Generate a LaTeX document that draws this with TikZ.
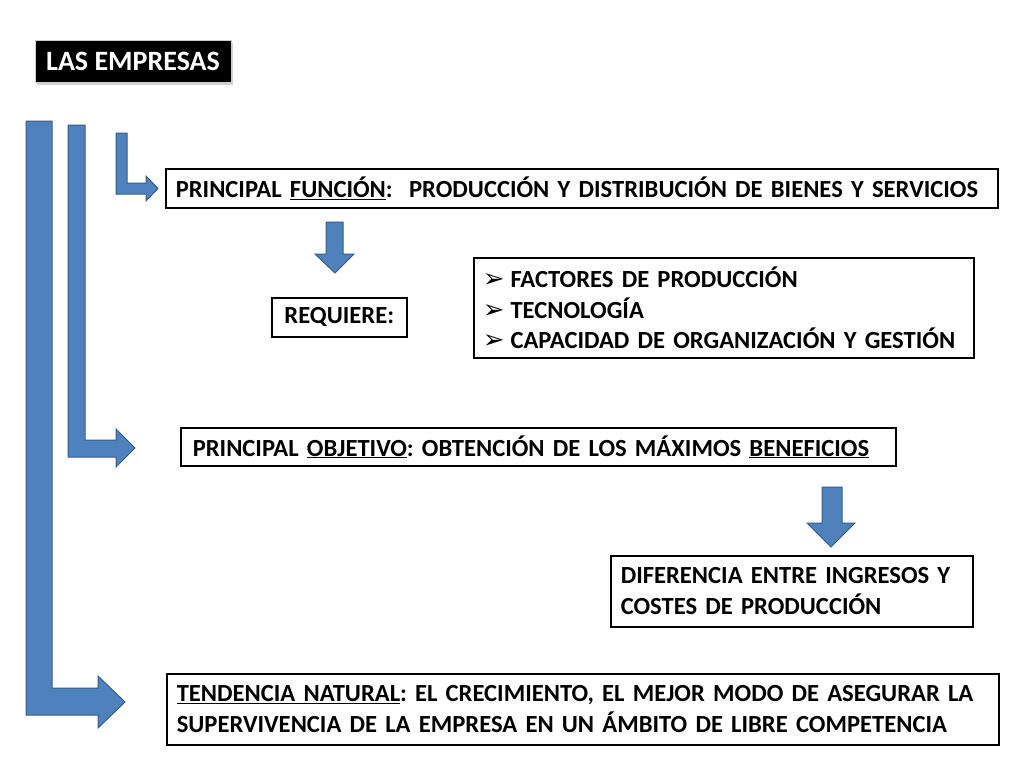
\documentclass[tikz,border=0pt]{standalone}
\usepackage{fontspec}
\setmainfont{Carlito}
\newfontfamily\simbolos{DejaVu Sans}
\usetikzlibrary{shadows}
\definecolor{azul}{RGB}{79,129,189}
\definecolor{azulborde}{RGB}{56,93,138}
\newcommand{\vineta}{{\simbolos\fontsize{26}{31}\selectfont ➢}\hspace{6pt}}
\frenchspacing
\begin{document}
\begin{tikzpicture}[x=1pt,y=-1pt,
  caja/.style={draw, line width=2.5pt, anchor=north west, inner xsep=10pt, inner ysep=0pt, align=left,
    font=\fontsize{24.6}{30.5}\selectfont\bfseries},
  flecha/.style={fill=azul, draw=azulborde, line width=1pt, line join=miter}]
\useasboundingbox[fill=white] (0,0) rectangle (1024,768);
\node[fill=black, draw=white!80!black, line width=1pt, text=white, minimum width=196pt, minimum height=41pt, inner sep=0pt,
  drop shadow={opacity=0.35, shadow xshift=1.5pt, shadow yshift=-2.5pt},
  font=\fontsize{28}{30}\selectfont\bfseries] (titulo) at (133,61.5) {LAS EMPRESAS};
\node[caja, minimum width=832pt, minimum height=39pt, text width=812pt] (funcion) at (164.5,167.5)
  {PRINCIPAL \underline{FUNCIÓN}:\ \ PRODUCCIÓN Y DISTRIBUCIÓN DE BIENES Y SERVICIOS};
\node[caja, minimum width=135pt, minimum height=39pt, align=center, text width=115pt] (requiere) at (270.5,296.5) {REQUIERE:};
\node[caja, minimum width=500pt, minimum height=100pt, inner xsep=9pt, text width=482pt] (lista) at (472.5,256.5)
  {\vineta FACTORES DE PRODUCCIÓN\\ \vineta TECNOLOGÍA\\ \vineta CAPACIDAD DE ORGANIZACIÓN Y GESTIÓN};
\node[caja, minimum width=715pt, minimum height=38pt, inner xsep=12pt, text width=691pt] (objetivo) at (179.5,426.5)
  {PRINCIPAL \underline{OBJETIVO}: OBTENCIÓN DE LOS MÁXIMOS \underline{BENEFICIOS}};
\node[caja, minimum width=362pt, minimum height=71pt, text width=342pt] (diferencia) at (609.5,554.5)
  {DIFERENCIA ENTRE INGRESOS Y\\COSTES DE PRODUCCIÓN};
\node[caja, minimum width=832pt, minimum height=71pt, text width=812pt] (tendencia) at (165.5,672.5)
  {\underline{TENDENCIA NATURAL}: EL CRECIMIENTO, EL MEJOR MODO DE ASEGURAR LA\\SUPERVIVENCIA DE LA EMPRESA EN UN ÁMBITO DE LIBRE COMPETENCIA};
\draw[flecha] (26,121) -- (52,121) -- (52,688) -- (98,688) -- (98,676) -- (125,702) -- (98,728) -- (98,715) -- (26,715) -- cycle;
\draw[flecha] (68,125) -- (85,125) -- (85,440) -- (116,440) -- (116,429) -- (135,448) -- (116,467) -- (116,457) -- (68,457) -- cycle;
\draw[flecha] (116,133) -- (127,133) -- (127,183) -- (146,183) -- (146,176) -- (158,188.5) -- (146,201) -- (146,194) -- (116,194) -- cycle;
\draw[flecha] (326,222) -- (343,222) -- (343,254) -- (354,254) -- (335,273) -- (315,254) -- (326,254) -- cycle;
\draw[flecha] (822,487) -- (842,487) -- (842,523) -- (855,523) -- (831,547) -- (807,523) -- (822,523) -- cycle;
\end{tikzpicture}
\end{document}
